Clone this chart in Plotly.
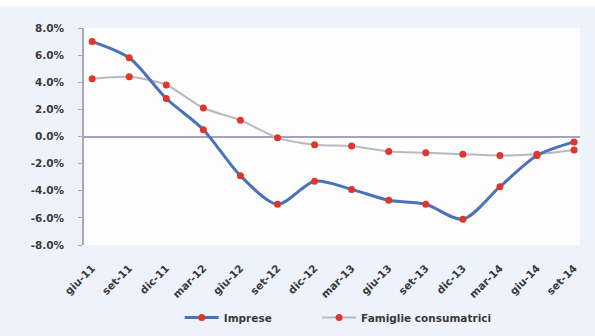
import plotly.graph_objects as go

# Quarterly periods
periods = ["giu-11", "set-11", "dic-11", "mar-12", "giu-12", "set-12", "dic-12",
           "mar-13", "giu-13", "set-13", "dic-13", "mar-14", "giu-14", "set-14"]

# Annual growth rates (%)
imprese = [7.0, 5.8, 2.8, 0.5, -2.9, -5.0, -3.3, -3.9, -4.7, -5.0, -6.1, -3.7, -1.4, -0.4]
famiglie = [4.25, 4.4, 3.8, 2.1, 1.2, -0.1, -0.6, -0.7, -1.1, -1.2, -1.3, -1.4, -1.3, -1.0]

y_ticks = [-8, -6, -4, -2, 0, 2, 4, 6, 8]
y_labels = ["-8.0%", "-6.0%", "-4.0%", "-2.0%", "0.0%", "2.0%", "4.0%", "6.0%", "8.0%"]

label_font = dict(family="DejaVu Sans, Verdana, sans-serif", size=10.5, color="#3a3a3a", weight="bold")

fig = go.Figure()

fig.add_trace(go.Scatter(
    x=periods, y=famiglie, name="Famiglie consumatrici",
    mode="lines+markers", legend="legend2",
    line=dict(color="#b8b8c2", width=2, shape="spline", smoothing=0.8),
    marker=dict(color="#e0352b", size=7),
))

fig.add_trace(go.Scatter(
    x=periods, y=imprese, name="Imprese",
    mode="lines+markers", legend="legend",
    line=dict(color="#4a72b8", width=3, shape="spline", smoothing=0.8),
    marker=dict(color="#e0352b", size=7),
))

legend_common = dict(
    orientation="h", yref="container", yanchor="middle", y=0.055,
    font=label_font, bgcolor="rgba(0,0,0,0)", itemwidth=34,
)

fig.update_layout(
    width=595, height=336,
    margin=dict(l=84, r=15, t=28, b=91),
    paper_bgcolor="#eef3fb",
    plot_bgcolor="#fdfdfe",
    showlegend=True,
    legend=dict(legend_common, x=0.193, xanchor="left"),
    legend2=dict(legend_common, x=0.47, xanchor="left"),
    xaxis=dict(
        type="category", range=[-0.22, 13.16], automargin=False,
        tickangle=-45, tickfont=label_font,
        ticklabelstandoff=14,
        showgrid=False, showline=False, zeroline=False, ticks="",
    ),
    yaxis=dict(
        range=[-8, 8], tickvals=y_ticks, ticktext=y_labels, automargin=False,
        tickfont=label_font, showgrid=False,
        showline=True, linecolor="#a9a9b4", linewidth=1.5,
        ticks="outside", ticklen=4, tickcolor="#a9a9b4",
        ticklabelstandoff=12,
        zeroline=True, zerolinecolor="#a3a3bd", zerolinewidth=1.5,
    ),
    shapes=[dict(type="rect", xref="paper", yref="paper",
                 x0=-0.2, x1=1.1, y0=1.1, y1=1.3,
                 fillcolor="#ffffff", line=dict(width=0), layer="below")],
)

fig.write_html("out.html")
